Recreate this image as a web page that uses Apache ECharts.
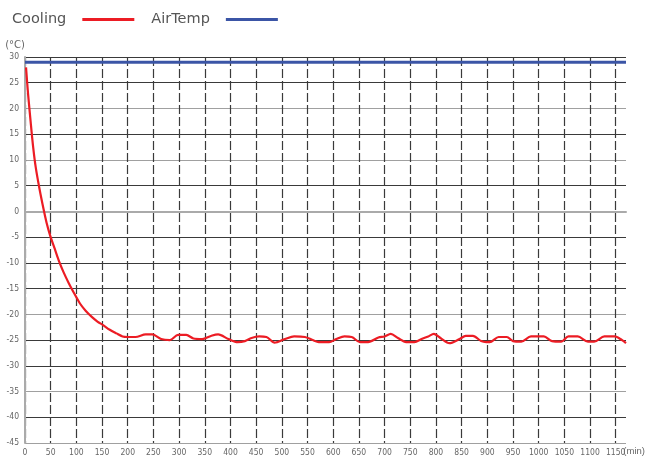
<!DOCTYPE html>
<html>
<head>
<meta charset="utf-8">
<script src="https://cdn.jsdelivr.net/npm/echarts@6/dist/echarts.min.js"></script>
<style>html,body{margin:0;padding:0;background:#fff}#c{width:646px;height:459px}</style>
</head>
<body>
<div id="c"></div>
<script>
// Data
const seriesNames = ['Cooling', 'AirTemp'];
const coolingTime = [2, 6, 11, 16, 21, 28, 36, 42, 49, 58, 66, 75, 85, 94, 107, 118, 130, 141, 152, 165, 178, 190, 200, 215, 235, 248, 265, 282, 298, 314, 328, 345, 362, 376, 396, 414, 428, 441, 456, 470, 486, 506, 524, 545, 560, 572, 592, 606, 622, 636, 652, 668, 688, 700, 712, 726, 742, 758, 772, 785, 796, 810, 826, 846, 858, 872, 888, 898, 908, 922, 938, 950, 966, 985, 1010, 1026, 1044, 1058, 1076, 1096, 1108, 1128, 1148, 1162, 1170];
const coolingTemp = [28.0, 22.8, 17.4, 12.4, 8.5, 4.5, 0.5, -2.2, -4.7, -7.3, -9.6, -11.8, -13.9, -15.6, -17.9, -19.3, -20.5, -21.4, -22.1, -23.0, -23.7, -24.3, -24.4, -24.4, -23.9, -23.9, -24.8, -25.0, -24.0, -24.0, -24.7, -24.8, -24.2, -23.9, -24.8, -25.4, -25.2, -24.6, -24.3, -24.4, -25.5, -24.8, -24.3, -24.4, -25.0, -25.4, -25.4, -24.8, -24.3, -24.4, -25.4, -25.4, -24.5, -24.3, -23.8, -24.6, -25.4, -25.4, -24.8, -24.3, -23.8, -24.7, -25.6, -24.8, -24.2, -24.2, -25.2, -25.4, -25.3, -24.4, -24.4, -25.2, -25.3, -24.3, -24.3, -25.2, -25.3, -24.3, -24.3, -25.3, -25.3, -24.3, -24.3, -25.0, -25.6];
const airTime = [0, 1170];
const airTemp = [29, 29];
const xMin = 0, xMax = 1170, xStep = 50;
const yMin = -45, yMax = 30, yStep = 5;
const xUnit = '(min)';
const yUnit = '(°C)';

const labelFont = '"Liberation Sans Narrow", "DejaVu Sans Condensed", "Liberation Sans", sans-serif';
const DARK = '#3a3a3a', LIGHT = '#a0a0a0';
// horizontal grid line shades, from the bottom tick upward
const hColors = [LIGHT, DARK, LIGHT, DARK, DARK, LIGHT, DARK, DARK, DARK, LIGHT, DARK, LIGHT, DARK, LIGHT, DARK, DARK];

const chart = echarts.init(document.getElementById('c'), null, {renderer: 'canvas'});
chart.setOption({
  animation: false,
  backgroundColor: '#fff',
  legend: {
    left: 7, top: 7,
    align: 'right',
    icon: 'rect',
    itemWidth: 52, itemHeight: 3,
    itemGap: 17,
    textStyle: {fontFamily: '"DejaVu Sans", sans-serif', fontSize: 14.5, color: '#555', padding: [0, 11, 0, 0]},
    data: seriesNames
  },
  grid: {left: 25, right: 20, top: 57, bottom: 16, containLabel: false, outerBoundsMode: 'none'},
  graphic: [{
    type: 'text', right: 1, top: 446,
    style: {text: xUnit, fontFamily: '"Liberation Sans", sans-serif', fontSize: 9.5, fill: '#666'}
  }],
  xAxis: {
    type: 'value', min: xMin, max: xMax, interval: xStep,
    axisLine: {show: true, lineStyle: {color: '#aaa', width: 2}},
    axisTick: {show: false},
    axisLabel: {
      margin: 5, fontFamily: labelFont, fontSize: 8.5, color: '#666', showMaxLabel: false,
      formatter: v => (v % xStep === 0 ? String(v) : '')
    },
    splitLine: {show: true, showMaxLine: false, lineStyle: {color: DARK, width: 1.2, type: [9, 3]}}
  },
  yAxis: {
    type: 'value', min: yMin, max: yMax, interval: yStep,
    name: yUnit, nameLocation: 'end', nameGap: 7,
    nameTextStyle: {fontFamily: '"DejaVu Sans", sans-serif', fontSize: 10, color: '#666', align: 'right', padding: [0, 0, 0, 0]},
    axisLine: {show: true, lineStyle: {color: '#aaa', width: 2}},
    axisTick: {show: false},
    axisLabel: {margin: 6, fontFamily: labelFont, fontSize: 8.5, color: '#666'},
    splitLine: {show: true, lineStyle: {color: hColors, width: 1.2}}
  },
  series: [
    {
      name: seriesNames[0], type: 'line', showSymbol: false, smooth: 0.3,
      data: coolingTime.map((t, i) => [t, coolingTemp[i]]),
      lineStyle: {color: '#ec1c24', width: 2.2},
      itemStyle: {color: '#ec1c24'},
      z: 3
    },
    {
      name: seriesNames[1], type: 'line', showSymbol: false,
      data: airTime.map((t, i) => [t, airTemp[i]]),
      lineStyle: {color: '#3b55a6', width: 3},
      itemStyle: {color: '#3b55a6'},
      z: 2
    }
  ]
});
</script>
</body>
</html>
